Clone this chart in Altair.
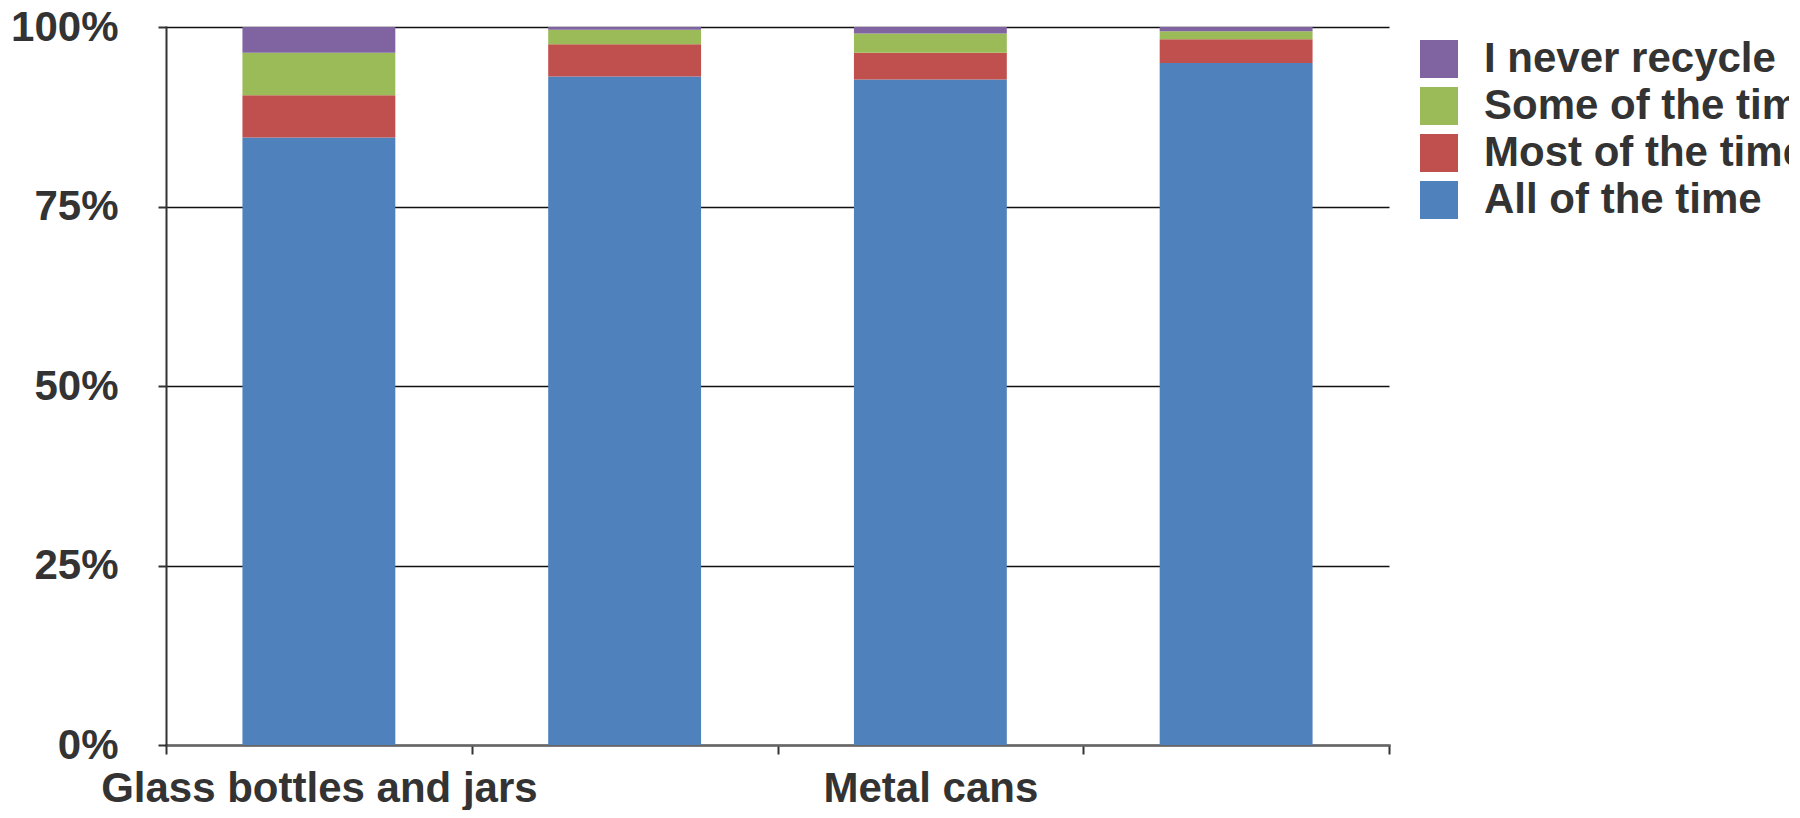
import altair as alt
import pandas as pd

categories = ["Glass bottles and jars", "Glass bottles and jars (b)", "Metal cans", "Metal cans (b)"]
shown_labels = ["Glass bottles and jars", "", "Metal cans", ""]
series = ["I never recycle", "Some of the time", "Most of the time", "All of the time"]
colors = ["#8064A2", "#9BBB59", "#C0504D", "#4F81BD"]

all_time = [84.6, 93.1, 92.7, 94.9]
most_time = [5.9, 4.5, 3.7, 3.3]
some_time = [5.9, 2.0, 2.7, 1.1]
never = [3.6, 0.4, 0.9, 0.6]

values = {
    "All of the time": all_time,
    "Most of the time": most_time,
    "Some of the time": some_time,
    "I never recycle": never,
}
stack_order = {"All of the time": 0, "Most of the time": 1, "Some of the time": 2, "I never recycle": 3}

rows = []
for s, vals in values.items():
    for c, v in zip(categories, vals):
        rows.append({"category": c, "series": s, "value": v, "order": stack_order[s]})
df = pd.DataFrame(rows)

label_expr = "''"
for c, l in zip(categories, shown_labels):
    label_expr = f"datum.label == '{c}' ? '{l}' : ({label_expr})"

FONT = "Liberation Sans"
TXT = "#333333"

chart = alt.Chart(df).mark_bar(width=alt.RelativeBandSize(0.5)).encode(
    x=alt.X("category:N", sort=categories, title=None,
            scale=alt.Scale(paddingInner=0, paddingOuter=0),
            axis=alt.Axis(labelExpr=label_expr, labelAngle=0, tickBand="extent",
                          labelFont=FONT, labelFontSize=42, labelFontWeight="bold",
                          labelColor=TXT, labelPadding=14, labelLimit=0, tickSize=9, tickColor="#333",
                          tickWidth=2, domainColor="#666", domainWidth=2.5,
                          labelBaseline="top")),
    y=alt.Y("value:Q", stack="normalize", title=None,
            scale=alt.Scale(domain=[0, 1]),
            axis=alt.Axis(values=[0, 0.25, 0.5, 0.75, 1], format=".0%",
                          labelFont=FONT, labelFontSize=42, labelFontWeight="bold",
                          labelColor=TXT, labelPadding=40, tickSize=8, tickColor="#333",
                          tickWidth=2, domainColor="#333", domainWidth=2,
                          grid=True, gridColor="#111", gridWidth=1.6)),
    color=alt.Color("series:N",
                    scale=alt.Scale(domain=series, range=colors),
                    legend=alt.Legend(title=None, orient="none", legendX=1252, legendY=11,
                                      symbolType="square", symbolSize=1444, symbolStrokeWidth=0,
                                      labelFont=FONT, labelFontSize=42, labelFontWeight="bold",
                                      labelColor=TXT, labelOffset=24, rowPadding=5,
                                      padding=0, labelLimit=0)),
    order=alt.Order("order:Q", sort="ascending"),
).properties(
    width=1223, height=718,
    autosize=alt.AutoSizeParams(type="none"),
    padding={"left": 158, "top": 19, "right": 400, "bottom": 65},
).configure_view(stroke=None).configure_axis(domainCap="square")

chart.save("out.html", embed_options={"renderer": "svg", "actions": False})
